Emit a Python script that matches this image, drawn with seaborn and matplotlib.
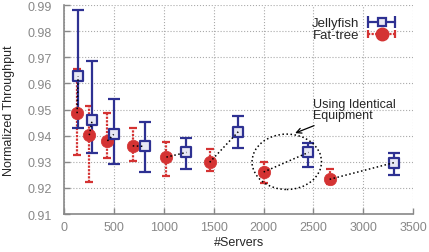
import numpy as np
import matplotlib
matplotlib.use("Agg")
import matplotlib.pyplot as plt
import seaborn as sns
import pandas as pd
from matplotlib.patches import Ellipse
from matplotlib.lines import Line2D
from matplotlib.legend_handler import HandlerLine2D, HandlerTuple

# jellyfish (same equipment as the matching fat-tree)
jf_servers = [138, 280, 495, 805, 1225, 1745, 2450, 3310]
jf_mean = [0.9627, 0.9461, 0.9405, 0.9359, 0.9336, 0.9415, 0.9336, 0.9297]
jf_low = [0.9428, 0.9332, 0.9290, 0.9260, 0.9272, 0.9351, 0.9282, 0.9249]
jf_high = [0.9881, 0.9687, 0.9539, 0.9452, 0.9393, 0.9474, 0.9371, 0.9332]

# fat-tree, k = 8 .. 22
ft_servers = [128, 250, 432, 686, 1024, 1458, 2000, 2662]
ft_mean = [0.9486, 0.9402, 0.9380, 0.9361, 0.9318, 0.9298, 0.9261, 0.9233]
ft_low = [0.9326, 0.9222, 0.9315, 0.9302, 0.9246, 0.9264, 0.9217, 0.9215]
ft_high = [0.9655, 0.9512, 0.9486, 0.9429, 0.9374, 0.9348, 0.9300, 0.9274]

blue = "#2e3192"
red = "#d43333"

sns.set_style("ticks")
plt.rcParams["font.family"] = ["Liberation Sans", "DejaVu Sans"]

fig, ax = plt.subplots(figsize=(4.29, 2.53), dpi=100)
fig.subplots_adjust(left=0.150, right=0.963, top=0.976, bottom=0.150)

df_jf = pd.DataFrame({"x": jf_servers, "y": jf_mean})
df_ft = pd.DataFrame({"x": ft_servers, "y": ft_mean})

# error bars
ft_err = [np.array(ft_mean) - np.array(ft_low), np.array(ft_high) - np.array(ft_mean)]
jf_err = [np.array(jf_mean) - np.array(jf_low), np.array(jf_high) - np.array(jf_mean)]
eb_ft = ax.errorbar(ft_servers, ft_mean, yerr=ft_err, fmt="none", ecolor=red,
                    elinewidth=1.6, capsize=3, capthick=1.6, zorder=3)
eb_ft[2][0].set_linestyle((0, (1, 0.6)))
ax.errorbar(jf_servers, jf_mean, yerr=jf_err, fmt="none", ecolor=blue,
            elinewidth=1.6, capsize=4, capthick=1.6, zorder=3)

# markers
sns.scatterplot(data=df_ft, x="x", y="y", ax=ax, marker="o", s=80, color=red,
                edgecolor=red, linewidth=0.5, zorder=4, legend=False)
sns.scatterplot(data=df_jf, x="x", y="y", ax=ax, marker="s", s=50, color="#e8e8f4",
                edgecolor=blue, linewidth=1.6, zorder=4, legend=False)

# dotted links between matching networks
for xf, yf, xj, yj in zip(ft_servers, ft_mean, jf_servers, jf_mean):
    ax.plot([xf, xj], [yf, yj], color="black", linestyle=":", linewidth=1.1, zorder=5)

# highlight
ax.add_patch(Ellipse((2232, 0.9300), 697, 0.0212, fill=False, edgecolor="black",
                     linestyle=":", linewidth=1.1, zorder=5))
ax.annotate("Using Identical\nEquipment", xy=(2290, 0.9406), xytext=(2500, 0.9500),
            fontsize=9, ha="left", va="center", linespacing=0.95,
            arrowprops=dict(arrowstyle="->", color="black", lw=0.9))

ax.set_xlim(0, 3500)
ax.set_ylim(0.91, 0.99)
ax.set_xticks(np.arange(0, 3501, 500))
ax.set_yticks(np.arange(0.91, 0.9901, 0.01))
ax.yaxis.set_major_formatter(matplotlib.ticker.FormatStrFormatter("%.2f"))
ax.grid(True, color="#aaaaaa", linestyle=":", linewidth=0.8)
ax.set_axisbelow(True)
for s in ["top", "right"]:
    ax.spines[s].set_visible(False)
for s in ["left", "bottom"]:
    ax.spines[s].set_color("#888888")
    ax.spines[s].set_linewidth(1.2)
ax.tick_params(direction="in", length=4, width=1, colors="#888888",
               labelsize=9, labelcolor="#888888")
ax.tick_params(axis="y", pad=9)
ax.tick_params(axis="x", pad=5)
ax.set_xlabel("#Servers", fontsize=9, labelpad=2)
ax.set_ylabel("Normalized Throughput", fontsize=9, labelpad=9)

# legend handles: horizontal bar with end caps plus marker
jf_bar = Line2D([], [], color=blue, lw=1.6, marker="|", markersize=8, mew=1.6)
jf_mark = Line2D([], [], color=blue, marker="s", markersize=6, mfc="#e8e8f4",
                 mew=1.6, linestyle="none")
ft_bar = Line2D([], [], color=red, lw=1.6, ls=(0, (1, 0.6)), marker="|",
                markersize=6, mew=1.6)
ft_mark = Line2D([], [], color=red, marker="o", markersize=9, linestyle="none")
hmap = {jf_bar: HandlerLine2D(numpoints=2), ft_bar: HandlerLine2D(numpoints=2),
        jf_mark: HandlerLine2D(numpoints=1), ft_mark: HandlerLine2D(numpoints=1),
        tuple: HandlerTuple(ndivide=1, pad=0)}
ax.legend([(jf_bar, jf_mark), (ft_bar, ft_mark)], ["Jellyfish", "Fat-tree"],
          handler_map=hmap, loc="upper right", markerfirst=False, frameon=False,
          fontsize=9.5, handlelength=2.6, handletextpad=0.4, labelspacing=0.0,
          handleheight=0.5, borderaxespad=0.3, bbox_to_anchor=(0.985, 0.985))

fig.savefig("out.png", dpi=100)
